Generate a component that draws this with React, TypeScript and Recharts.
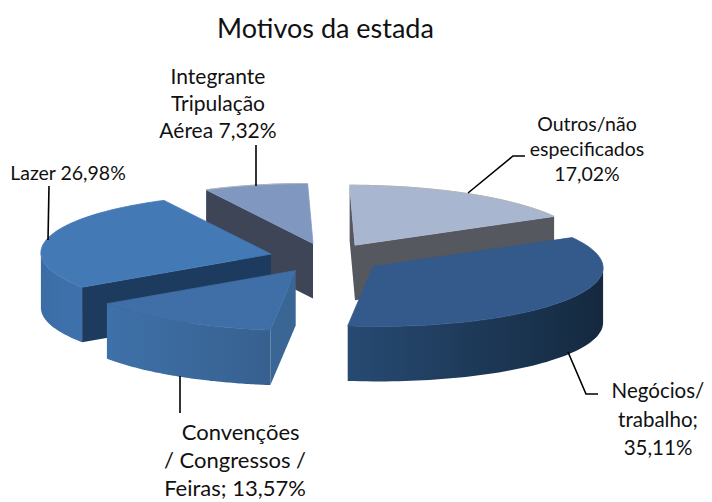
import React from "react";
import { PieChart, Pie } from "recharts";

const categories = ["Outros/não especificados", "Negócios/trabalho", "Convenções / Congressos / Feiras", "Lazer", "Integrante Tripulação Aérea"];
const values = [17.02, 35.11, 13.57, 26.98, 7.32];
const drawOrder = [0, 4, 3, 1, 2];
const labelLines = [
  ["Outros/não", "especificados", "17,02%"],
  ["Negócios/", "trabalho;", "35,11%"],
  ["\u00A0\u00A0Convenções", "/ Congressos /", "Feiras; 13,57%"],
  ["Lazer 26,98%"],
  ["Integrante", "Tripulação", "Aérea 7,32%"],
];

const tops = ["#A9B6D0", "#34598B", "#3F6FA6", "#4379B5", "#8098C0"];
const startWalls = ["#55595F", "#1D3A5F", "#3A6696", "#1D3A5F", "#3D4556"];
const endWalls = ["#55595F", "#1D3A5F", "#3A6696", "#1D3A5F", "#3D4556"];
const arcFrom = ["#55595F", "#274A72", "#3E71A9", "#3B6CA5", "#3D4556"];
const arcTo = ["#4A4E54", "#14293F", "#37608F", "#3F72AD", "#3D4556"];

const textPos = [
  { x: 587, y: 131, dy: 25, size: 19.5 },
  { x: 658, y: 398, dy: 28.5, size: 20.5 },
  { x: 235, y: 440, dy: 28, size: 22 },
  { x: 68, y: 180, dy: 26, size: 19.5 },
  { x: 218, y: 84, dy: 27, size: 21 },
];
const leaders = [
  "468,193 513,156 525,156",
  "568,352 586,394 598,394",
  "180,376 180,413",
  "49,186 48,240",
  "256,145 256,186",
];

const CX = 326, CY = 258, RX = 230, SQUASH = 60 / 230, SHEAR = 0.09, DEPTH = 55, EXPLODE = 57;

const Slice3D = (layer: number) => (props: any) => {
  const { index, cx, cy, outerRadius, startAngle, endAngle } = props;
  if (index !== layer) return <g />;
  const rad = Math.PI / 180;
  const mid = ((startAngle + endAngle) / 2) * rad;
  const ax = cx + EXPLODE * Math.cos(mid);
  const ay = cy - EXPLODE * SQUASH * Math.sin(mid);
  const pt = (deg: number) => {
    const dy = -outerRadius * SQUASH * Math.sin(deg * rad);
    return [ax + outerRadius * Math.cos(deg * rad) + SHEAR * dy, ay + dy];
  };
  const n = 80;
  const arc = Array.from({ length: n + 1 }, (_, i) => pt(startAngle + ((endAngle - startAngle) * i) / n));
  const s = (p: number[], d = 0) => `${p[0].toFixed(1)},${(p[1] + d).toFixed(1)}`;
  const first = arc[0], last = arc[n];
  const front: number[][] = [];
  arc.forEach((p, i) => {
    const prev = arc[i - 1], next = arc[i + 1];
    if ((next && next[0] < p[0]) || (prev && p[0] < prev[0])) front.push(p);
  });
  const id = `arcGrad${index}`;
  return (
    <g>
      <defs>
        <linearGradient id={id} x1="1" y1="0" x2="0" y2="0">
          <stop offset="0" stopColor={arcTo[index]} />
          <stop offset="1" stopColor={arcFrom[index]} />
        </linearGradient>
      </defs>
      {front.length > 1 && (
        <polygon
          points={[...front.map((p) => s(p)), ...[...front].reverse().map((p) => s(p, DEPTH))].join(" ")}
          fill={`url(#${id})`}
        />
      )}
      {first[0] < ax && (
        <polygon points={[s([ax, ay]), s(first), s(first, DEPTH), s([ax, ay], DEPTH)].join(" ")} fill={startWalls[index]} />
      )}
      {ax < last[0] && (
        <polygon points={[s(last), s([ax, ay]), s([ax, ay], DEPTH), s(last, DEPTH)].join(" ")} fill={endWalls[index]} />
      )}
      <polygon points={[s([ax, ay]), ...arc.map((p) => s(p))].join(" ")} fill={tops[index]} stroke={tops[index]} strokeWidth={0.8} />
      {(index === 0 || index === 4) && (
        <polyline points={arc.map((p) => s(p)).join(" ")} fill="none" stroke="#B5B5B5" strokeWidth={1} />
      )}
    </g>
  );
};

const renderLabel = (props: any) => {
  const i = props.index;
  const t = textPos[i];
  return (
    <g key={i}>
      <polyline points={leaders[i]} fill="none" stroke="#000" strokeWidth={1.6} />
      <text textAnchor="middle" fontFamily="Lato" fontSize={t.size} fill="#111">
        {labelLines[i].map((line, j) => (
          <tspan key={j} x={t.x} y={t.y + j * t.dy}>{line}</tspan>
        ))}
      </text>
    </g>
  );
};

const data = categories.map((name, i) => ({ name, value: values[i] }));

export default function App() {
  return (
    <div style={{ position: "absolute", left: 0, top: 0, background: "#fff" }}>
      <PieChart width={712} height={502} margin={{ top: 0, right: 0, bottom: 0, left: 0 }}>
        <text x={325.5} y={38} textAnchor="middle" fontFamily="Lato" fontSize={27} fill="#111">Motivos da estada</text>
        {drawOrder.map((layer, k) => (
          <Pie
            key={layer}
            data={data}
            dataKey="value"
            nameKey="name"
            cx={CX}
            cy={CY}
            innerRadius={0}
            outerRadius={RX}
            startAngle={90}
            endAngle={-270}
            paddingAngle={0}
            stroke="none"
            isAnimationActive={false}
            shape={Slice3D(layer)}
            label={k === drawOrder.length - 1 ? renderLabel : false}
            labelLine={false}
          />
        ))}
      </PieChart>
    </div>
  );
}
